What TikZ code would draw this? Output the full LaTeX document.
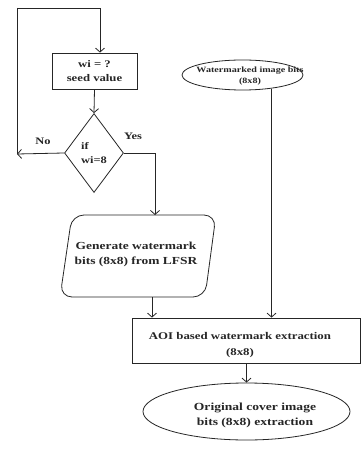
\documentclass[tikz,border=0pt]{standalone}
\usepackage{fontspec}
\newfontfamily\lbl[FakeStretch=1.25]{Liberation Serif}
\usetikzlibrary{arrows.meta,shapes.geometric}
\tikzset{
  ln/.style={draw=black!85,line width=0.8bp},
  arr/.style={ln,-{Straight Barb[length=4bp,width=9bp]}},
  txt/.style={font=\lbl\bfseries,text=black!85,align=center,inner sep=0pt},
  box/.style={ln,rectangle,txt},
}
\begin{document}
\begin{tikzpicture}[x=1bp,y=-1bp]
\useasboundingbox (0,0) rectangle (361,450);
\fill[white] (0,0) rectangle (361,450);
% seed box
\node[box,minimum width=85bp,minimum height=36bp,font=\lbl\bfseries\fontsize{10.2}{13.5}\selectfont] (seed) at (94.5,71) {wi = ?\\seed value};
% diamond
\node[ln,diamond,txt,align=left,minimum width=59bp,minimum height=79bp,font=\lbl\bfseries\fontsize{10}{14}\selectfont] (dec) at (94,153) {if\\wi=8};
% generate
\coordinate (g1) at (72,215);
\coordinate (g2) at (216,215);
\coordinate (g3) at (205,297);
\coordinate (g4) at (60,297);
\draw[ln,rounded corners=12bp] (g1) -- (g2) -- (g3) -- (g4) -- cycle;
\node[txt,font=\lbl\bfseries\fontsize{10.8}{15}\selectfont] (gen) at (136,254) {Generate watermark\\bits (8x8) from LFSR};
% watermarked
\node[ln,ellipse,minimum width=121bp,minimum height=30bp] (wm) at (242.5,75) {};
\node[txt,font=\lbl\bfseries\fontsize{8.1}{11.5}\selectfont] (wmt) at (250,76) {Watermarked image bits\\(8x8)};
% AOI
\node[box,minimum width=228bp,minimum height=45bp] (aoi) at (246,340.5) {};
\node[txt,font=\lbl\bfseries\fontsize{10.3}{16}\selectfont] (aoit) at (240,345) {AOI based watermark extraction\\(8x8)};
% original
\node[ln,ellipse,minimum width=207bp,minimum height=57bp] (orig) at (246.5,411.5) {};
\node[txt,font=\lbl\bfseries\fontsize{10.9}{15}\selectfont] (origt) at (255,415) {Original cover image\\bits (8x8) extraction};
% labels
\node[txt,font=\lbl\bfseries\fontsize{10}{11}\selectfont] (no) at (43,141) {No};
\node[txt,font=\lbl\bfseries\fontsize{10}{11}\selectfont] (yes) at (133,136) {Yes};
% loop
\coordinate (tl) at (17,8);
\coordinate (tr) at (100,8);
\coordinate (bl) at (17,154);
\draw[arr] (tl) -- (tr) -- (tr |- seed.north);
\draw[ln] (tl) -- (bl);
\draw[arr] (dec.west) -- (bl);
\draw[arr] (seed.south) -- (dec.north);
\coordinate (yc) at (155,153);
\draw[arr] (dec.east) -- (yc) -- (yc |- g1);
\coordinate (gb) at (152,297);
\draw[arr] (gb) -- (gb |- aoi.north);
\draw[arr] (wm.-25) -- (wm.-25 |- aoi.north);
\draw[arr] (orig.north |- aoi.south) -- (orig.north);
\end{tikzpicture}
\end{document}
